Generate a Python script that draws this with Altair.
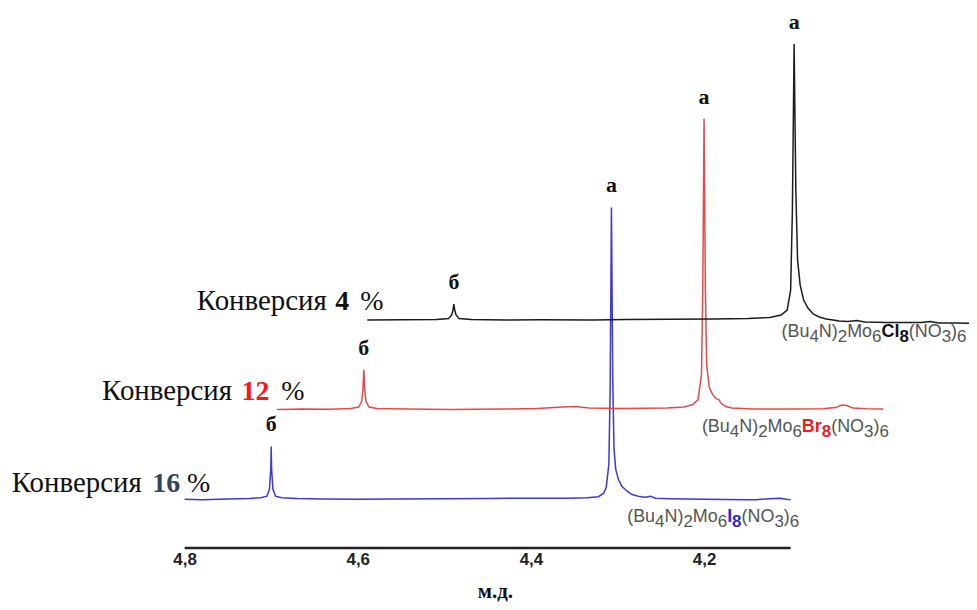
import altair as alt
import pandas as pd

# ---------------- data (own chemical shift, ppm / intensity, a.u.) ----------------
blue_ppm = [4.800, 4.780, 4.750, 4.725, 4.712, 4.705, 4.702, 4.7005, 4.700, 4.6995, 4.698, 4.695,
            4.688, 4.670, 4.640, 4.600, 4.560, 4.500, 4.450, 4.400, 4.360, 4.335, 4.322, 4.316,
            4.313, 4.310, 4.3085, 4.307, 4.3055, 4.304, 4.302, 4.299, 4.295, 4.290, 4.284, 4.276,
            4.268, 4.262, 4.256, 4.240, 4.200, 4.150, 4.140, 4.125, 4.112, 4.105, 4.100]
blue_int = [0.0, -0.5, 0.3, 0.8, 1.5, 3.0, 10.0, 30.0, 53.0, 30.0, 10.0, 3.0,
            1.5, 0.8, 0.3, 0.0, 0.3, 0.5, 0.8, 1.0, 1.0, 1.5, 2.5, 6.0,
            12.0, 35.0, 110.0, 293.0, 120.0, 50.0, 30.0, 20.0, 13.0, 9.0, 5.0, 3.0,
            2.0, 3.0, 1.0, 0.5, 0.0, -0.5, -0.5, 0.5, 1.0, 0.0, -0.5]

red_ppm = [4.800, 4.770, 4.740, 4.715, 4.706, 4.7025, 4.701, 4.700, 4.699, 4.6975, 4.694, 4.685,
           4.650, 4.600, 4.540, 4.500, 4.470, 4.455, 4.440, 4.400, 4.350, 4.330, 4.320, 4.314,
           4.310, 4.3085, 4.307, 4.3055, 4.304, 4.301, 4.297, 4.293, 4.290, 4.287, 4.282, 4.275,
           4.250, 4.200, 4.170, 4.155, 4.148, 4.142, 4.135, 4.120, 4.100]
red_int = [0.0, 0.5, 0.3, 1.0, 2.5, 8.0, 20.0, 40.0, 20.0, 8.0, 2.5, 1.0,
           0.5, 0.0, 0.5, 1.0, 2.5, 3.0, 1.5, 1.0, 1.5, 2.5, 5.0, 10.0,
           35.0, 120.0, 292.0, 120.0, 45.0, 22.0, 15.0, 11.0, 10.0, 6.0, 3.0, 1.5,
           0.5, 0.5, 0.8, 2.0, 4.5, 4.0, 1.5, 0.8, 0.5]

black_ppm = [4.800, 4.760, 4.720, 4.706, 4.7025, 4.701, 4.700, 4.699, 4.6975, 4.694, 4.680, 4.640,
             4.600, 4.540, 4.500, 4.450, 4.400, 4.360, 4.335, 4.322, 4.315, 4.311, 4.309, 4.307,
             4.305, 4.303, 4.300, 4.296, 4.291, 4.285, 4.278, 4.270, 4.262, 4.255, 4.245, 4.235,
             4.225, 4.200, 4.160, 4.150, 4.140, 4.120, 4.100]
black_int = [0.0, 0.3, 0.5, 1.5, 5.0, 10.0, 16.0, 10.0, 5.0, 1.5, 0.5, 0.0,
             0.3, 0.0, 0.5, 0.8, 1.0, 1.5, 2.5, 5.0, 10.0, 30.0, 110.0, 277.0,
             130.0, 60.0, 35.0, 20.0, 12.0, 6.0, 3.0, 1.0, 0.0, -1.0, -1.5, -0.5,
             -2.0, -2.5, -2.5, -1.5, -3.0, -3.0, -3.5]

series_names = ["I8", "Br8", "Cl8"]
x_shift = [0.0, -0.107, -0.211]      # stacked display offset, ppm
y_shift = [49, 139, 229]             # stacked display offset, a.u.
line_colors = ["#3a3ad6", "#e8484c", "#1c1c1c"]

peak_letters = ["б", "а"]
peak_ppm = [4.700, 4.307]

conv_word = "Конверсия"
conv_values = ["16", "12", "4"]
conv_colors = ["#34455a", "#ff1414", "#111111"]
conv_word_x = [4.9996, 4.8953, 4.7859]
conv_num_x = [4.8374, 4.7343, 4.6260]
conv_pct_x = [4.7972, 4.6883, 4.5972]
conv_y = [56, 149, 239]

formula_element = ["I", "Br", "Cl"]
formula_colors = ["#2b2bd6", "#ee1c24", "#111111"]
formula_x = [4.2888, 4.2025, 4.1105]
formula_y = [26, 116, 212]

axis_ticks = [4.8, 4.6, 4.4, 4.2]
axis_span = [4.8, 4.1]

# ---------------- layout helpers ----------------
W, H = 965, 594
X_DOMAIN = [5.004, 3.894]
PX_PER_PPM = W / (X_DOMAIN[0] - X_DOMAIN[1])

# Arial / Liberation Sans advance widths (1/1000 em)
ARIAL = {"(": 333, ")": 333, "B": 667, "u": 556, "N": 722, "M": 833, "o": 556, "O": 778,
         "C": 722, "l": 222, "r": 333, "I": 278}
ARIAL_BOLD = {"C": 722, "l": 278, "B": 722, "r": 389, "I": 278}
DIGIT = 556
MAIN_FS, SUB_FS = 18, 17


def seg_width(text, kind):
    fs = SUB_FS if kind.endswith("sub") else MAIN_FS
    tbl = ARIAL_BOLD if kind.startswith("bold") else ARIAL
    return sum((DIGIT if ch.isdigit() else tbl.get(ch, 556)) for ch in text) * fs / 1000.0


# ---------------- tables ----------------
trace_rows = []
for name, ppm, inten, dx, dy in zip(series_names, [blue_ppm, red_ppm, black_ppm],
                                     [blue_int, red_int, black_int], x_shift, y_shift):
    assert len(ppm) == len(inten)
    for i, (p, v) in enumerate(zip(ppm, inten)):
        trace_rows.append({"series": name, "idx": i, "x": p + dx, "y": v + dy})
traces = pd.DataFrame(trace_rows)

letter_rows = []
for name, ppm, inten, dx, dy in zip(series_names, [blue_ppm, red_ppm, black_ppm],
                                     [blue_int, red_int, black_int], x_shift, y_shift):
    for letter, pp in zip(peak_letters, peak_ppm):
        apex = inten[ppm.index(pp)]
        letter_rows.append({"x": pp + dx, "y": apex + dy, "text": letter})
letters = pd.DataFrame(letter_rows)

conv_word_df = pd.DataFrame({"x": conv_word_x, "y": conv_y, "text": [conv_word] * 3})
conv_num_df = pd.DataFrame({"x": conv_num_x, "y": conv_y, "text": conv_values, "color": conv_colors})
conv_pct_df = pd.DataFrame({"x": conv_pct_x, "y": conv_y, "text": ["%"] * 3})

seg_rows = []
for elem, col, x0, y0 in zip(formula_element, formula_colors, formula_x, formula_y):
    parts = [("(Bu", "norm"), ("4", "normsub"), ("N)", "norm"), ("2", "normsub"), ("Mo", "norm"),
             ("6", "normsub"), (elem, "bold"), ("8", "boldsub"), ("(NO", "norm"), ("3", "normsub"),
             (")", "norm"), ("6", "normsub")]
    off = 0.0
    for txt, kind in parts:
        seg_rows.append({"x": x0 - off / PX_PER_PPM, "y": y0, "text": txt, "kind": kind,
                         "color": col if kind.startswith("bold") else "#555555"})
        off += seg_width(txt, kind)
segs = pd.DataFrame(seg_rows)

axis_df = pd.DataFrame({"x": [axis_span[0]], "x2": [axis_span[1]], "y": [0]})

# ---------------- encodings ----------------
xaxis = alt.Axis(values=axis_ticks, labelExpr="replace(format(datum.value, '.1f'), '.', ',')",
                 domain=False, ticks=False, grid=False, offset=-53, labelFlush=False,
                 labelFont="Liberation Sans", labelFontWeight="bold", labelFontSize=17,
                 labelColor="#222222", labelPadding=4,
                 title="м.д.", titleFont="Liberation Serif", titleFontSize=21,
                 titleFontWeight="bold", titleColor="#111111", titleX=489, titleY=44,
                 titleAlign="center", titleBaseline="middle")
X = alt.X("x:Q", scale=alt.Scale(domain=X_DOMAIN, nice=False, zero=False), axis=xaxis)
Y = alt.Y("y:Q", scale=alt.Scale(domain=[-53, 541], nice=False, zero=False), axis=None)

lines = alt.Chart(traces).mark_line(strokeWidth=1.5).encode(
    x=X, y=Y,
    color=alt.Color("series:N", scale=alt.Scale(domain=series_names, range=line_colors), legend=None),
    order=alt.Order("idx:Q"),
)

axis_rule = alt.Chart(axis_df).mark_rule(color="#222222", strokeWidth=2.5).encode(
    x=X, x2="x2:Q", y=Y)

letter_text = alt.Chart(letters).mark_text(
    font="Liberation Serif", fontSize=22, fontWeight="bold", color="#111111",
    align="center", baseline="middle", dy=-22).encode(x=X, y=Y, text="text:N")

conv_word_text = alt.Chart(conv_word_df).mark_text(
    font="Liberation Serif", fontSize=29, color="#111111", align="left",
    baseline="alphabetic").encode(x=X, y=Y, text="text:N")
conv_num_text = alt.Chart(conv_num_df).mark_text(
    font="Liberation Serif", fontSize=28, fontWeight="bold", align="left",
    baseline="alphabetic").encode(x=X, y=Y, text="text:N", color=alt.Color("color:N", scale=None))
conv_pct_text = alt.Chart(conv_pct_df).mark_text(
    font="Liberation Serif", fontSize=28, color="#111111", align="left",
    baseline="alphabetic").encode(x=X, y=Y, text="text:N")


def seg_layer(kind, weight, size, dy):
    return alt.Chart(segs[segs["kind"] == kind]).mark_text(
        font="Liberation Sans", fontSize=size, fontWeight=weight, align="left",
        baseline="alphabetic", dy=dy).encode(
        x=X, y=Y, text="text:N", color=alt.Color("color:N", scale=None))


formula_layers = [
    seg_layer("norm", "normal", MAIN_FS, 0),
    seg_layer("normsub", "normal", SUB_FS, 5),
    seg_layer("bold", "bold", MAIN_FS, 0),
    seg_layer("boldsub", "bold", SUB_FS, 5),
]

chart = alt.layer(
    lines, axis_rule, letter_text, conv_word_text, conv_num_text, conv_pct_text, *formula_layers
).properties(
    width=W, height=H, padding=0, background="white",
    autosize=alt.AutoSizeParams(type="none"),
).configure_view(stroke=None)

chart.save("out.html", embed_options={"renderer": "svg", "actions": False})
